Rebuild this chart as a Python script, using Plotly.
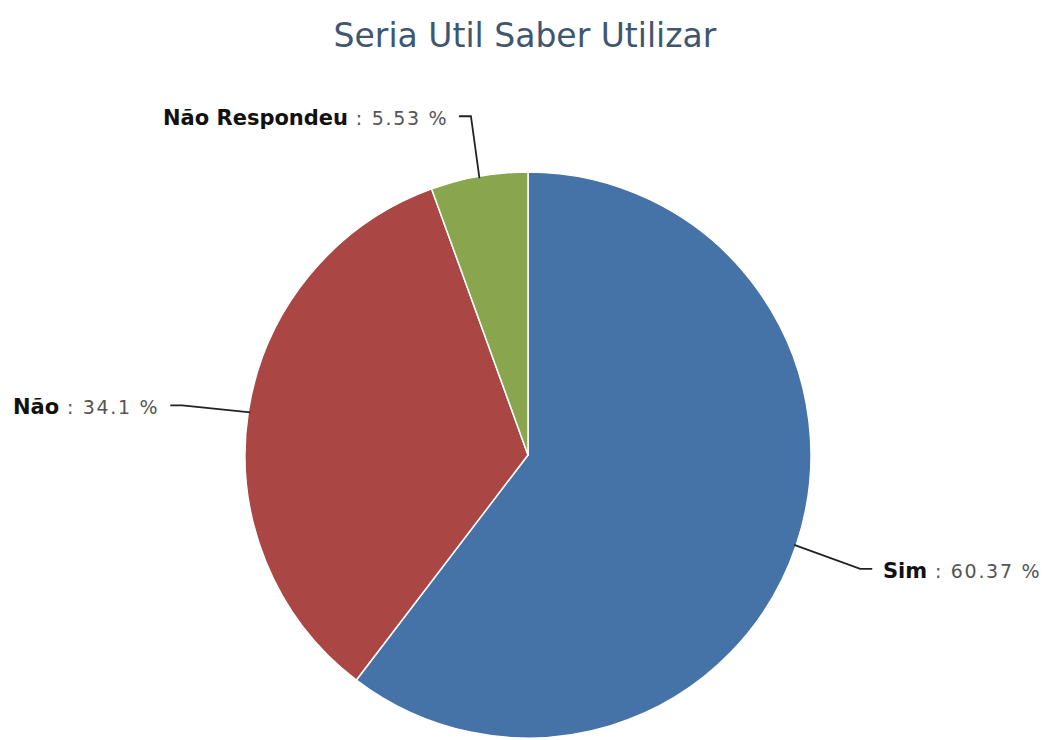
import math
import plotly.graph_objects as go

labels = ["Sim", "Não", "Não Respondeu"]
values = [60.37, 34.1, 5.53]
colors = ["#4572A7", "#AA4643", "#89A54E"]
title = "Seria Util Saber Utilizar"

W, H = 1047, 740
# page body adds an 8px offset; geometry below is in figure pixels (style)
cx, cy, r = 520, 447, 283
# connector elbow offsets from slice edge midpoint (style)
offsets = [(66, 24), (-68, -7), (-8.5, -62)]
tail = 12
gap = 9

def px(x, y):
    return x / W, 1 - y / H

fig = go.Figure(go.Pie(
    labels=labels, values=values, marker=dict(colors=colors, line=dict(color="white", width=1.5)),
    sort=False, direction="clockwise", rotation=0, textinfo="none", showlegend=False,
    domain=dict(x=[(cx - r) / W, (cx + r) / W], y=[1 - (cy + r) / H, 1 - (cy - r) / H]),
))

total = sum(values)
cum = 0
shapes, annotations = [], []
for lab, v, (dx, dy) in zip(labels, values, offsets):
    mid = (cum + v / 2) / total * 2 * math.pi
    cum += v
    ex, ey = cx + (r - 2) * math.sin(mid), cy - (r - 2) * math.cos(mid)
    lx, ly = ex + dx, ey + dy
    side = 1 if math.sin(mid) > 0 else -1
    tx = lx + side * tail
    pts = [(ex, ey), (lx, ly), (tx, ly)]
    path = "M " + " L ".join(f"{px(a, b)[0]},{px(a, b)[1]}" for a, b in pts)
    shapes.append(dict(type="path", path=path, xref="paper", yref="paper",
                       line=dict(color="#222222", width=1.8)))
    ax, ay = px(tx + side * gap, ly + 2)
    annotations.append(dict(
        x=ax, y=ay, xref="paper", yref="paper", showarrow=False,
        xanchor="left" if side > 0 else "right", yanchor="middle",
        text=(f"<span style='font-size:21px;font-weight:bold'>{lab}</span>"
              f"<span style='color:#555555;letter-spacing:1.7px'> : {v:g} %</span>"),
        font=dict(family="DejaVu Sans", size=19, color="#111111"),
    ))

fig.update_layout(
    width=W, height=H, margin=dict(l=0, r=0, t=0, b=0),
    paper_bgcolor="white", plot_bgcolor="white",
    title=dict(text=title, x=517 / W, xanchor="center", y=1 - 27 / H, yanchor="middle",
               font=dict(family="DejaVu Sans", size=33, color="#3E576F")),
    shapes=shapes, annotations=annotations,
)
fig.write_html("out.html")
